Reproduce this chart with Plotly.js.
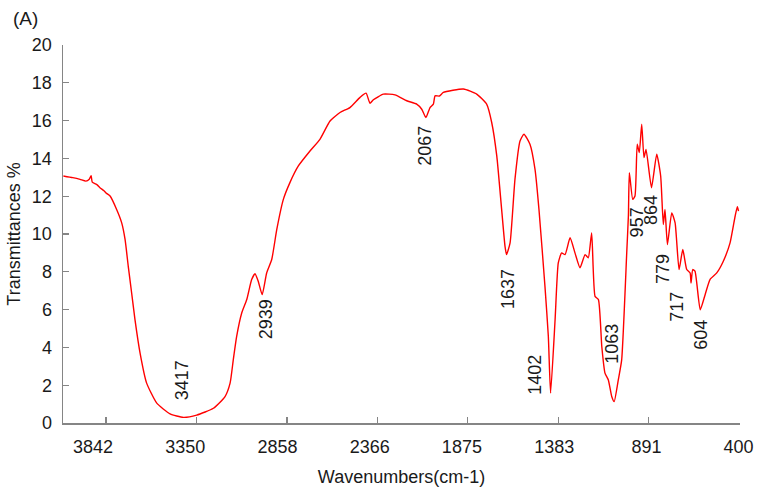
<!DOCTYPE html>
<html>
<head>
<meta charset="utf-8">
<script src="https://cdn.plot.ly/plotly-3.0.1.min.js"></script>
<style>
  body { margin: 0; background: #fff; }
  #chart { width: 757px; height: 493px; }
</style>
</head>
<body>
<div id="chart"></div>
<script>
// FTIR spectrum (A) - transmittance vs wavenumber

var wavenumber = [4000, 3950, 3911, 3880, 3862, 3852, 3846, 3820, 3805, 3785, 3770, 3751,
  3716, 3689, 3671, 3654, 3636, 3618, 3591, 3556, 3502, 3431, 3360, 3289, 3200, 3138,
  3111, 3094, 3076, 3049, 3022, 2996, 2978, 2961, 2940, 2916, 2889, 2862, 2827, 2792,
  2747, 2685, 2632, 2578, 2525, 2472, 2418, 2386, 2365, 2347, 2294, 2232, 2169, 2116,
  2089, 2067, 2045, 2027, 2018, 1995, 1974, 1867, 1796, 1743, 1716, 1689, 1663, 1645,
  1637, 1618, 1592, 1565, 1544, 1512, 1485, 1464, 1432, 1414, 1402, 1378, 1361, 1343,
  1325, 1298, 1272, 1245, 1218, 1201, 1183, 1165, 1147, 1129, 1112, 1094, 1076, 1063,
  1041, 1023, 996, 987, 982, 964, 952, 940, 929, 916, 904, 893, 864, 836, 815, 801,
  792, 779, 756, 738, 717, 697, 676, 658, 653, 644, 632, 604, 578, 552, 516, 481, 445,
  418, 406, 400];

var transmittance = [13.07, 12.98, 12.89, 12.80, 12.90, 13.08, 12.74, 12.60, 12.45, 12.30, 12.15, 12.01,
  11.30, 10.59, 9.71, 8.29, 6.88, 5.46, 3.70, 2.11, 1.05, 0.48, 0.30, 0.42, 0.78, 1.40,
  2.11, 3.34, 4.58, 5.82, 6.53, 7.59, 7.90, 7.50, 6.79, 7.94, 8.65, 10.24, 11.83, 12.72,
  13.60, 14.39, 15.01, 15.98, 16.43, 16.69, 17.23, 17.45, 16.92, 17.10, 17.40, 17.36, 17.05, 16.87,
  16.60, 16.16, 16.69, 16.87, 17.31, 17.30, 17.49, 17.67, 17.40, 16.87, 15.90, 14.13, 11.30, 9.35,
  8.91, 9.53, 12.89, 14.92, 15.28, 14.75, 13.42, 11.30, 7.23, 4.58, 1.58, 5.46, 8.47, 9.00,
  8.91, 9.80, 9.00, 8.21, 8.91, 8.74, 10.06, 6.70, 6.53, 4.05, 2.64, 2.28, 1.40, 1.13,
  2.28, 3.34, 9.00, 11.00, 13.25, 11.83, 12.01, 14.75, 14.31, 15.81, 14.04, 14.48, 12.45, 14.22, 13.07, 10.50,
  11.30, 9.44, 11.12, 10.59, 8.12, 9.18, 8.12, 7.94, 7.41, 8.12, 8.03, 5.99, 6.79, 7.59, 7.94, 8.56, 9.53,
  10.94, 11.44, 11.21];

var tickVals = [3842, 3350, 2858, 2366, 1875, 1383, 891, 400];
var tickText = ['3842', '3350', '2858', '2366', '1875', '1383', '891', '400'];

var peakLabels = ['3417', '2939', '2067', '1637', '1402', '1063', '957', '864', '779', '717', '604'];
var peakLabelX = [3370, 2922, 2069, 1632, 1485, 1072, 944, 866, 805, 725, 600];
var peakLabelY = [2.23, 5.46, 14.64, 7.11, 2.55, 4.22, 10.64, 11.27, 8.12, 6.13, 4.67];

var fontFamily = 'Liberation Sans, Arial, sans-serif';
var axisGrey = '#858585';

var data = [
  {
    x: wavenumber,
    y: transmittance,
    type: 'scatter',
    mode: 'lines',
    line: { color: '#ff0000', width: 1.4, shape: 'spline', smoothing: 0.5 },
    hoverinfo: 'x+y'
  },
  {
    // empty trace so the tick-mark axis gets drawn
    x: [],
    y: [],
    xaxis: 'x2',
    type: 'scatter',
    mode: 'lines',
    hoverinfo: 'skip'
  }
];

var annotations = peakLabels.map(function (t, i) {
  return {
    x: peakLabelX[i],
    y: peakLabelY[i],
    xref: 'x',
    yref: 'y',
    text: t,
    textangle: -90,
    showarrow: false,
    xanchor: 'center',
    yanchor: 'middle',
    font: { family: fontFamily, size: 18, color: '#1a1a1a' }
  };
});
annotations.push({
  x: -0.056,
  y: 1.069,
  xref: 'paper',
  yref: 'paper',
  text: '(A)',
  showarrow: false,
  xanchor: 'center',
  yanchor: 'middle',
  font: { family: fontFamily, size: 19, color: '#1a1a1a' }
});

var layout = {
  width: 757,
  height: 493,
  margin: { l: 63, r: 17, t: 45, b: 70 },
  paper_bgcolor: '#ffffff',
  plot_bgcolor: '#ffffff',
  showlegend: false,
  font: { family: fontFamily, size: 18, color: '#1a1a1a' },
  xaxis: {
    range: [4002, 392],
    tickvals: tickVals,
    ticktext: tickText,
    ticks: '',
    ticklabelstandoff: 11,
    showline: false,
    showgrid: false,
    zeroline: false,
    tickfont: { size: 18 },
    title: { text: 'Wavenumbers(cm-1)', font: { size: 18 }, standoff: 14 }
  },
  xaxis2: {
    overlaying: 'x',
    side: 'bottom',
    range: [4076, 395],
    tickvals: tickVals,
    ticks: 'inside',
    ticklen: 6,
    tickwidth: 1.3,
    tickcolor: axisGrey,
    showline: true,
    linecolor: axisGrey,
    linewidth: 1.5,
    showticklabels: false,
    showgrid: false,
    zeroline: false
  },
  yaxis: {
    range: [0, 20],
    tick0: 0,
    dtick: 2,
    ticks: 'inside',
    ticklen: 6,
    tickwidth: 1.3,
    tickcolor: axisGrey,
    ticklabelstandoff: 6,
    showline: true,
    linecolor: axisGrey,
    linewidth: 1.5,
    showgrid: false,
    zeroline: false,
    tickfont: { size: 18 },
    title: { text: 'Transmittances %', font: { size: 18 }, standoff: 6 }
  },
  annotations: annotations
};

Plotly.newPlot('chart', data, layout, { displayModeBar: false, staticPlot: true });
</script>
</body>
</html>
